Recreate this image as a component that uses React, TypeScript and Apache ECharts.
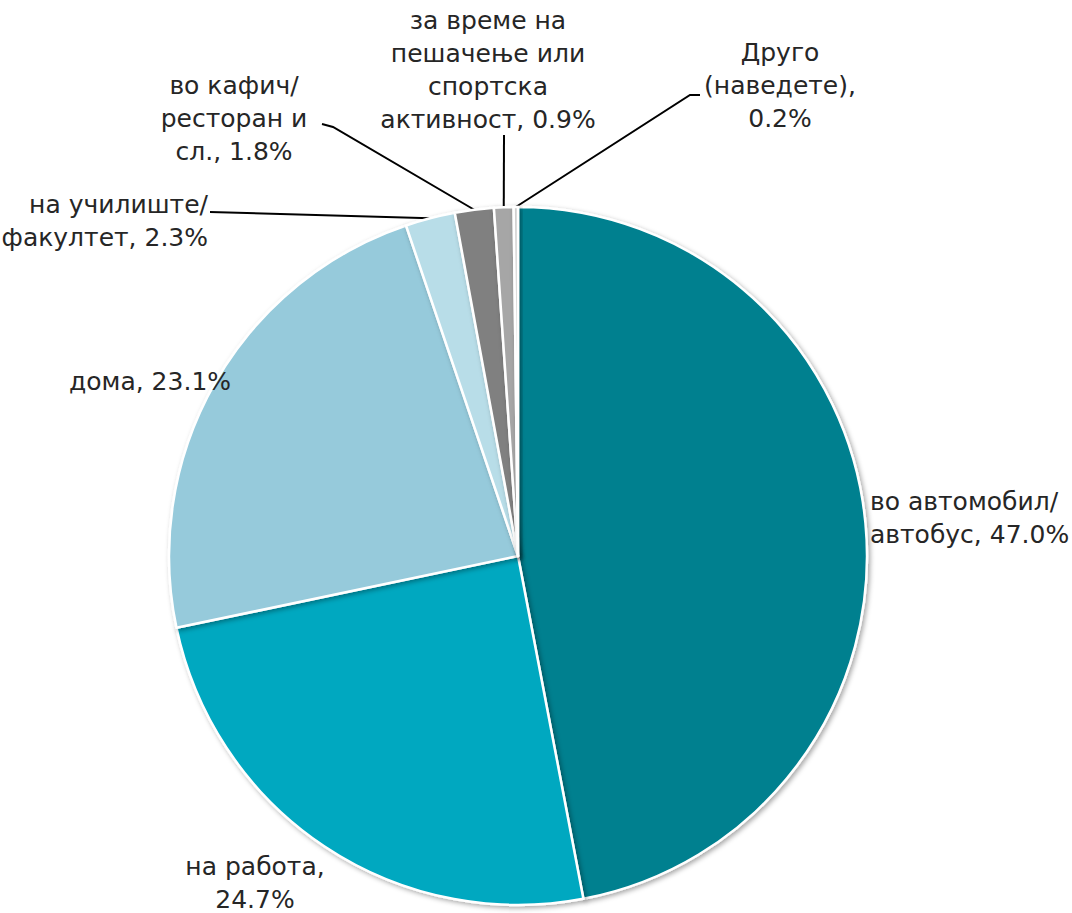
import React, { useEffect, useRef } from "react";
import * as echarts from "echarts";

const categories = [
  "во автомобил/\nавтобус",
  "на работа,",
  "дома",
  "на училиште/\nфакултет",
  "во кафич/\nресторан и\nсл.",
  "за време на\nпешачење или\nспортска\nактивност",
  "Друго\n(наведете),",
];
const values = [47.0, 24.7, 23.1, 2.3, 1.8, 0.9, 0.2];
const colors = ["#00808F", "#00A8C0", "#96CADB", "#B8DDE8", "#808080", "#A6A6A6", "#D0D0D0"];
const labelTexts = [
  "во автомобил/\nавтобус, 47.0%",
  "на работа,\n24.7%",
  "дома, 23.1%",
  "на училиште/\nфакултет, 2.3%",
  "во кафич/\nресторан и\nсл., 1.8%",
  "за време на\nпешачење или\nспортска\nактивност, 0.9%",
  "Друго\n(наведете),\n0.2%",
];

const CX = 518;
const CY = 556;
const R = 349;

// label anchor layout (not data)
const labelPos: { x: number; y: number; align: string; line?: number[][] }[] = [
  { x: 870, y: 518, align: "left" },
  { x: 255, y: 883, align: "center" },
  { x: 150, y: 381, align: "center" },
  { x: 208, y: 221, align: "right", line: [[210, 212]] },
  { x: 234, y: 118, align: "center", line: [[333, 127], [322, 124]] },
  { x: 488, y: 70, align: "center", line: [[504, 135]] },
  { x: 780, y: 85, align: "center", line: [[690, 95], [700, 95]] },
];

export default function App() {
  const ref = useRef<HTMLDivElement>(null);
  useEffect(() => {
    document.body.style.margin = "0";
    const chart = echarts.init(ref.current!, null, { renderer: "svg" });
    const total = values.reduce((a, b) => a + b, 0);
    const edgePoint = (i: number) => {
      let cum = 0;
      for (let k = 0; k < i; k++) cum += values[k];
      const frac = (cum + values[i] / 2) / total;
      const ang = frac * Math.PI * 2;
      return [CX + R * Math.sin(ang), CY - R * Math.cos(ang)];
    };
    chart.setOption({
      animation: false,
      backgroundColor: "#ffffff",
      series: [
        {
          type: "pie",
          center: [CX, CY],
          radius: R,
          startAngle: 90,
          clockwise: true,
          avoidLabelOverlap: false,
          itemStyle: {
            borderColor: "#ffffff",
            borderWidth: 2.5,
            shadowBlur: 5,
            shadowColor: "rgba(0,0,0,0.35)",
            shadowOffsetX: 2,
            shadowOffsetY: 2,
          },
          label: {
            show: true,
            fontFamily: "DejaVu Sans",
            fontSize: 25,
            lineHeight: 33,
            color: "#262626",
            formatter: (p: any) => labelTexts[p.dataIndex],
          },
          labelLine: {
            show: true,
            lineStyle: { color: "#000000", width: 2 },
          },
          labelLayout: (params: any) => {
            const i = params.dataIndex;
            const lp = labelPos[i];
            const res: any = {
              x: lp.x,
              y: lp.y,
              align: lp.align,
              verticalAlign: "middle",
            };
            if (lp.line) {
              res.labelLinePoints = [edgePoint(i), ...lp.line];
            }
            return res;
          },
          data: categories.map((name, i) => ({
            name,
            value: values[i],
            itemStyle: { color: colors[i] },
            labelLine: { show: !!labelPos[i].line },
          })),
        },
      ],
    });
    return () => chart.dispose();
  }, []);
  return <div ref={ref} style={{ width: 1072, height: 913 }} />;
}
